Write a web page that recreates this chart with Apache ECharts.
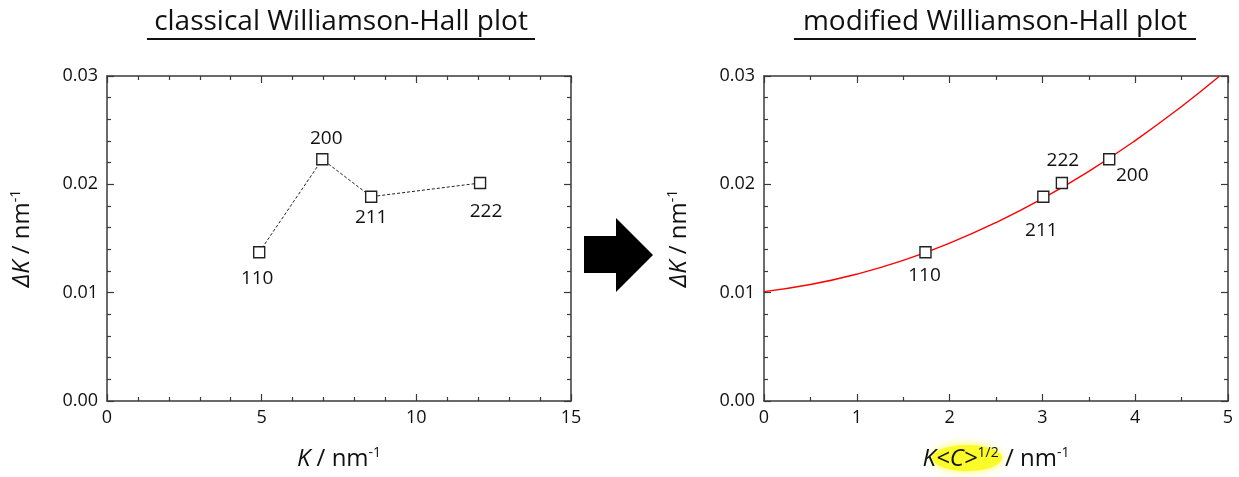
<!DOCTYPE html>
<html>
<head>
	<title>Williamson-Hall</title>
	<meta charset="utf-8">
	<script src="https://cdn.jsdelivr.net/npm/echarts@6/dist/echarts.min.js"></script>
	<style>
		body { margin: 0; background: #fff; }
	</style>
</head>
<body>
<div id="chart" style="width: 1239px; height: 477px"></div>
<script>
	// values
	const hkl = ['110', '200', '211', '222'];
	const dK = [0.01373, 0.02231, 0.01886, 0.02012];      // ΔK / nm-1
	const kLeft = [4.92, 6.96, 8.54, 12.06];               // K / nm-1
	const kcRight = [1.74, 3.72, 3.01, 3.21];              // K<C>^1/2 / nm-1
	// red fit curve
	const fitX = [0, 0.5, 1, 1.5, 2, 2.5, 3, 3.5, 4, 4.5, 4.91];
	const fitY = [0.0101, 0.01075, 0.01171, 0.01298, 0.01457, 0.01647, 0.01868, 0.0212, 0.02404, 0.02719, 0.03];
	const yTicks = [0, 0.03, 0.01];   // min, max, interval

	const font = 'Open Sans';
	const axisCol = '#3a3a3a';

	// label shifts (px) from the marker centre, per hkl
	const leftShift = [[-2, 26], [4, -21], [0, 21], [6, 29]];
	const rightShift = [[-1, 23], [23, 16], [-2, 34], [1, -22]];

	function pts(xs, ys, shift) {
		return xs.map((x, i) => ({
			value: [x, ys[i]],
			name: hkl[i],
			label: { offset: shift[i] }
		}));
	}

	const supRich = {
		i: { fontSize: 24, fontStyle: 'italic', fontFamily: font, color: '#111' },
		n: { fontSize: 24, fontFamily: font, color: '#111' },
		s: { fontSize: 14, fontFamily: font, color: '#111', verticalAlign: 'top', padding: [0, 0, 12, 0] }
	};

	function xAxes(gi, max, interval, minorSplit, name) {
		const base = {
			gridIndex: gi, type: 'value', min: 0, max: max, interval: interval,
			splitLine: { show: false },
			axisLine: { show: true, onZero: false, lineStyle: { color: axisCol, width: 1.5 } },
			axisTick: { show: true, inside: true, length: 7, lineStyle: { color: axisCol, width: 1.2 } },
			minorTick: { show: true, splitNumber: minorSplit, length: 4, lineStyle: { color: axisCol, width: 1.2 } }
		};
		return [
			Object.assign({}, base, {
				position: 'bottom',
				axisLabel: { color: '#111', fontSize: 18, fontFamily: font, margin: 8 },
				name: name, nameLocation: 'middle', nameGap: 45,
				nameTextStyle: { color: '#111', fontSize: 24, fontFamily: font, rich: supRich }
			}),
			Object.assign({}, base, { position: 'top', axisLabel: { show: false } })
		];
	}

	function yAxes(gi) {
		const base = {
			gridIndex: gi, type: 'value', min: yTicks[0], max: yTicks[1], interval: yTicks[2],
			splitLine: { show: false },
			axisLine: { show: true, onZero: false, lineStyle: { color: axisCol, width: 1.5 } },
			axisTick: { show: true, inside: true, length: 7, lineStyle: { color: axisCol, width: 1.2 } },
			minorTick: { show: true, splitNumber: 5, length: 4, lineStyle: { color: axisCol, width: 1.2 } }
		};
		return [
			Object.assign({}, base, {
				position: 'left',
				axisLabel: { color: '#111', fontSize: 18, fontFamily: font, margin: 9, formatter: v => v.toFixed(2) },
				name: '{i|ΔK} {n|/ nm}{s|-1}', nameLocation: 'middle', nameRotate: 90, nameGap: 72,
				nameTextStyle: { color: '#111', fontSize: 24, fontFamily: font, rich: supRich }
			}),
			Object.assign({}, base, { position: 'right', axisLabel: { show: false } })
		];
	}

	const markerStyle = { color: '#fff', borderColor: '#222', borderWidth: 1.4, opacity: 1 };
	const lblStyle = { show: true, position: 'inside', color: '#111', fontSize: 19, fontFamily: font, formatter: '{b}' };
	const titleStyle = { fontSize: 28, fontFamily: font, fill: '#111', align: 'center', verticalAlign: 'middle' };

	function initData() {
		let option = {
			animation: false,
			backgroundColor: '#fff',
			grid: [
				{ left: 107, top: 76, width: 464, height: 325 },
				{ left: 764, top: 76, width: 464, height: 325 }
			],
			xAxis: [].concat(
				xAxes(0, 15, 5, 5, '{i|K} {n|/ nm}{s|-1}'),
				xAxes(1, 5, 1, 2, '{i|K<C>}{s|1/2} {n|/ nm}{s|-1}')
			),
			yAxis: [].concat(yAxes(0), yAxes(1)),
			graphic: [
				{ type: 'text', x: 341, y: 22, z: 10, style: Object.assign({ text: 'classical Williamson-Hall plot' }, titleStyle) },
				{ type: 'line', shape: { x1: 147, y1: 39, x2: 535, y2: 39 }, style: { stroke: '#111', lineWidth: 2 } },
				{ type: 'text', x: 995, y: 22, z: 10, style: Object.assign({ text: 'modified Williamson-Hall plot' }, titleStyle) },
				{ type: 'line', shape: { x1: 794, y1: 39, x2: 1196, y2: 39 }, style: { stroke: '#111', lineWidth: 2 } },
				{
					type: 'polygon',
					shape: { points: [[584, 236], [616, 236], [616, 218], [653, 255], [616, 292], [616, 273], [584, 273]] },
					style: { fill: '#000' }
				},
				{
					// yellow highlight behind <C>^1/2
					type: 'ellipse', z: -1,
					shape: { cx: 967, cy: 458, rx: 35, ry: 13 },
					style: { fill: '#fbfb2a', shadowBlur: 8, shadowColor: 'rgba(250,250,60,0.9)' }
				}
			],
			series: [
				{
					type: 'line', xAxisIndex: 0, yAxisIndex: 0,
					data: pts(kLeft, dK, leftShift),
					symbol: 'rect', symbolSize: 11,
					itemStyle: markerStyle,
					lineStyle: { color: '#222', width: 1, type: [3, 2] },
					label: lblStyle,
					z: 3
				},
				{
					type: 'line', xAxisIndex: 2, yAxisIndex: 2,
					data: fitX.map((x, i) => [x, fitY[i]]),
					showSymbol: false, smooth: true,
					lineStyle: { color: '#ff0000', width: 1.4 },
					z: 2
				},
				{
					type: 'scatter', xAxisIndex: 2, yAxisIndex: 2,
					data: pts(kcRight, dK, rightShift),
					symbol: 'rect', symbolSize: 11,
					itemStyle: markerStyle,
					label: lblStyle,
					z: 3
				}
			]
		};
		let myChart = echarts.init(document.getElementById('chart'));
		myChart.setOption(option);
	}
	initData();
</script>
</body>
</html>
